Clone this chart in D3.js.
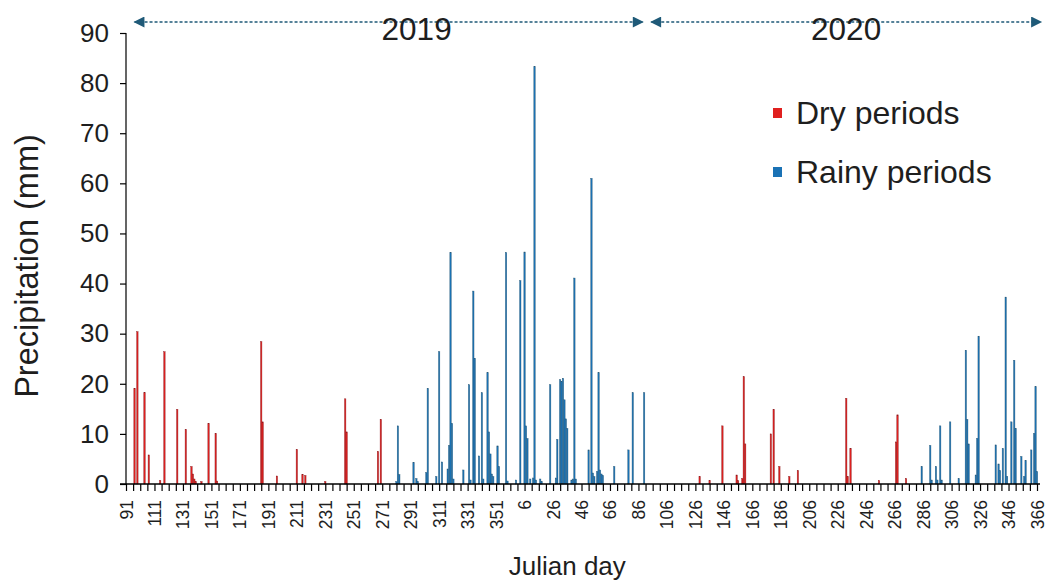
<!DOCTYPE html>
<html>
<head>
<meta charset="utf-8">
<script src="https://cdn.jsdelivr.net/npm/d3@7"></script>
<style>
  html, body { margin: 0; padding: 0; background: #fff; }
  svg { display: block; font-family: "Liberation Sans", Arial, sans-serif; }
</style>
</head>
<body>
<svg id="chart" width="1047" height="582"></svg>
<script>
// ---------- DATA ----------
// Julian days and precipitation (mm)
const dry2019Days = [97, 99, 104, 107, 115, 118, 127, 133, 137, 138, 139, 140, 144, 149, 154, 155, 186, 187, 197, 211, 215, 217, 231, 245, 246, 268, 270];
const dry2019Vals = [19.1, 30.4, 18.2, 5.8, 0.7, 26.4, 14.9, 10.9, 3.5, 2.0, 1.0, 0.5, 0.5, 12.1, 10.1, 0.6, 28.4, 12.4, 1.6, 6.9, 1.9, 1.7, 0.5, 17.0, 10.4, 6.5, 12.9];

const rainy2019Days = [281, 282, 283, 293, 295, 296, 302, 303, 309, 311, 313, 317, 318, 319, 320, 321, 328, 332, 333, 335, 336, 339, 341, 342, 345, 346, 347, 348, 349, 352, 353, 358, 359, 365];
const rainy2019Vals = [0.5, 11.6, 1.9, 4.3, 1.1, 0.5, 2.3, 19.1, 1.5, 26.4, 4.4, 3.0, 7.7, 46.2, 12.1, 1.0, 2.8, 19.8, 0.8, 38.5, 25.1, 5.6, 18.2, 1.0, 22.2, 10.4, 6.0, 2.0, 1.5, 7.6, 3.5, 46.2, 0.6, 0.8];

const rainy2020aDays = [3, 6, 7, 8, 10, 12, 13, 14, 17, 18, 24, 28, 29, 31, 32, 33, 34, 35, 36, 39, 40, 41, 42, 51, 53, 54, 55, 57, 58, 59, 60, 61, 69, 79, 82, 90];
const rainy2020aVals = [40.6, 46.3, 11.6, 9.1, 1.0, 1.2, 83.3, 0.8, 1.0, 0.5, 19.8, 1.2, 8.9, 20.8, 20.5, 21.1, 16.8, 13.0, 11.1, 0.8, 1.0, 41.1, 1.0, 6.8, 61.0, 2.2, 1.5, 2.5, 22.2, 2.8, 2.0, 1.7, 3.5, 6.8, 18.2, 18.2];

const dry2020Days = [129, 136, 145, 155, 156, 159, 160, 161, 179, 181, 185, 192, 198, 232, 233, 235, 255, 267, 268, 274];
const dry2020Vals = [1.5, 0.7, 11.6, 1.8, 0.7, 1.1, 21.4, 8.0, 10.0, 14.9, 3.5, 1.5, 2.7, 17.1, 1.5, 7.1, 0.7, 8.4, 13.8, 1.1];

const rainy2020bDays = [285, 291, 292, 295, 296, 298, 299, 305, 311, 316, 317, 318, 323, 324, 325, 337, 339, 340, 342, 344, 345, 348, 350, 351, 355, 357, 358, 362, 364, 365, 366];
const rainy2020bVals = [3.5, 7.7, 0.8, 3.5, 0.8, 11.6, 0.8, 12.4, 1.1, 26.7, 12.9, 8.0, 1.8, 9.1, 29.5, 7.8, 4.0, 2.7, 7.1, 37.3, 1.5, 12.4, 24.7, 11.1, 5.5, 1.5, 4.7, 6.8, 10.1, 19.4, 2.5];

const xTickLabels = ["91","111","131","151","171","191","211","231","251","271","291","311","331","351",
  "6","26","46","66","86","106","126","146","166","186","206","226","246","266","286","306","326","346","366"];
const yTicks = [0, 10, 20, 30, 40, 50, 60, 70, 80, 90];
const yearLabels = ["2019", "2020"];
const legendLabels = ["Dry periods", "Rainy periods"];

// ---------- BUILD ----------
const colors = { dry: "#e0201f", rainy: "#1a72b5" };
const textColor = "#1e1e1e";
const categories = [
  ...d3.range(91, 366).map(d => "2019-" + d),
  ...d3.range(1, 367).map(d => "2020-" + d)
];
function series(year, days, vals, period) {
  return days.map((d, i) => ({ key: year + "-" + d, value: vals[i], period }));
}
const data = [
  ...series(2019, dry2019Days, dry2019Vals, "dry"),
  ...series(2019, rainy2019Days, rainy2019Vals, "rainy"),
  ...series(2020, rainy2020aDays, rainy2020aVals, "rainy"),
  ...series(2020, dry2020Days, dry2020Vals, "dry"),
  ...series(2020, rainy2020bDays, rainy2020bVals, "rainy")
];

const svg = d3.select("#chart");
const x = d3.scalePoint().domain(categories).range([126, 1037]);
const y = d3.scaleLinear().domain([0, 90]).range([484, 33]);

// bars
svg.append("g").selectAll("rect").data(data).join("rect")
  .attr("x", d => x(d.key) - 0.7)
  .attr("width", 1.4)
  .attr("y", d => y(d.value))
  .attr("height", d => y(0) - y(d.value))
  .attr("fill", d => colors[d.period])
  .attr("stroke", d => d.period === "dry" ? "#8a1a1e" : "#2a5a78")
  .attr("stroke-width", 0.4);

// y axis
const yAxis = d3.axisLeft(y).tickValues(yTicks).tickSize(6).tickPadding(11);
const gy = svg.append("g").attr("transform", "translate(126,0)").call(yAxis);
gy.select(".domain").attr("stroke", "#000").attr("stroke-width", 1.2).attr("d", "M-6,33.5H0V484");
gy.selectAll(".tick line").attr("stroke", "#000").attr("stroke-width", 1.2);
gy.selectAll("text").attr("font-size", 26).attr("fill", textColor)
  .attr("font-family", "Liberation Sans, Arial, sans-serif");

// x axis
const tickKeys = categories.filter((c, i) => i % 5 === 0);
const labelKeys = categories.filter((c, i) => i % 20 === 0);
const labelMap = new Map(labelKeys.map((k, i) => [k, xTickLabels[i]]));
const xAxis = d3.axisBottom(x).tickValues(tickKeys).tickSize(7).tickFormat(() => "");
const gx = svg.append("g").attr("transform", "translate(0,484)").call(xAxis);
gx.select(".domain").attr("stroke", "#000").attr("stroke-width", 1.5).attr("d", "M120,0H1040");
gx.selectAll(".tick line").attr("stroke", "#000").attr("stroke-width", 1.2);

svg.append("g").selectAll("text").data(labelKeys).join("text")
  .attr("transform", d => `translate(${x(d) + 6.5},500) rotate(-90)`)
  .attr("text-anchor", "end")
  .attr("font-size", 17.5)
  .attr("fill", textColor)
  .text(d => labelMap.get(d));

// axis titles
svg.append("text")
  .attr("x", x(categories[310]))
  .attr("y", 575)
  .attr("text-anchor", "middle")
  .attr("font-size", 26)
  .attr("fill", textColor)
  .text("Julian day");

svg.append("text")
  .attr("transform", `translate(38,${y(43.5)}) rotate(-90)`)
  .attr("text-anchor", "middle")
  .attr("font-size", 32.5)
  .attr("fill", textColor)
  .text("Precipitation (mm)");

// year arrows
const arrowColor = "#1f5a78";
const defs = svg.append("defs");
defs.append("marker").attr("id", "arr").attr("viewBox", "0 0 10 10")
  .attr("refX", 9).attr("refY", 5).attr("markerWidth", 12).attr("markerHeight", 11)
  .attr("markerUnits", "userSpaceOnUse")
  .attr("orient", "auto-start-reverse")
  .append("path").attr("d", "M0,0L10,5L0,10z").attr("fill", arrowColor);

const yearSpans = [[categories[6], categories[363]], [categories[369], categories[640]]];
const arrowY = 22;
yearSpans.forEach((s, i) => {
  const x1 = x(s[0]), x2 = i === 1 ? 1041 : x(s[1]);
  svg.append("line")
    .attr("x1", x1).attr("x2", x2).attr("y1", arrowY).attr("y2", arrowY)
    .attr("stroke", arrowColor).attr("stroke-width", 1.3)
    .attr("stroke-dasharray", "3,2")
    .attr("marker-start", "url(#arr)").attr("marker-end", "url(#arr)");
  svg.append("text")
    .attr("x", (x1 + x2) / 2 + (i === 0 ? 28 : 0))
    .attr("y", 40)
    .attr("text-anchor", "middle")
    .attr("font-size", 31.5)
    .attr("fill", textColor)
    .text(yearLabels[i]);
});

// legend
const legend = svg.append("g").attr("transform", "translate(773,0)");
[["dry", 113], ["rainy", 172]].forEach(([p, cy], i) => {
  legend.append("rect").attr("x", 0).attr("y", cy - 5).attr("width", 9).attr("height", 10)
    .attr("fill", colors[p]);
  legend.append("text").attr("x", 23).attr("y", cy).attr("dy", "0.35em")
    .attr("font-size", 32).attr("fill", textColor).text(legendLabels[i]);
});
</script>
</body>
</html>
